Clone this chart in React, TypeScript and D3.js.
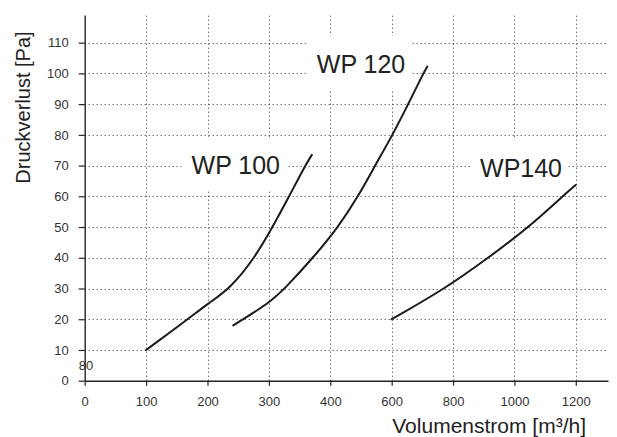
import { useEffect, useRef } from 'react';
import * as d3 from 'd3';

// axis ticks (the x axis changes step after 400)
const xTicks = [0, 100, 200, 300, 400, 600, 800, 1000, 1200];
const yTicks = [0, 10, 20, 30, 40, 50, 60, 70, 80, 90, 100, 110];
const xBreaks = [0, 400, 1305];
const yMax = 119;

// curves [Volumenstrom, Druckverlust]
const wp100: [number, number][] = [
  [100, 10], [168, 20], [200, 25], [237, 30], [277, 40], [306, 50], [333, 60], [359, 70], [370, 73.5],
];
const wp120: [number, number][] = [
  [242, 18], [300, 25.2], [326, 30], [372, 40], [426, 50], [491, 60], [546, 70], [603, 80], [654, 90], [703, 100], [716, 102.2],
];
const wp140: [number, number][] = [
  [600, 20], [775, 30], [915, 40], [1048, 50], [1157, 60], [1200, 63.7],
];
const curves = [wp100, wp120, wp140];

const labelNames = ['WP 100', 'WP 120', 'WP140'];
const labelAt: [number, number][] = [[174, 67.3], [378, 100.2], [888, 66.4]];

const FONT = '"Liberation Sans", Arial, Helvetica, sans-serif';

export default function App() {
  const svgRef = useRef<SVGSVGElement>(null);

  useEffect(() => {
    if (!svgRef.current) return;
    const width = 617;
    const height = 437;
    const margin = { top: 15, right: 9, bottom: 56.3, left: 84.7 };

    const svg = d3.select(svgRef.current);
    svg.selectAll('*').remove();
    svg.attr('width', width).attr('height', height);

    const x = d3.scaleLinear()
      .domain(xBreaks)
      .range([margin.left, 330.3, width - margin.right]);
    const y = d3.scaleLinear()
      .domain([0, yMax])
      .range([height - margin.bottom, margin.top]);

    const ink = '#222';
    const gridColor = '#333';
    const snap = (v: number) => Math.round(v) + 0.5;

    // Grid lines
    const grid = svg.append('g');
    grid.selectAll('line.h')
      .data(yTicks.filter(d => d > 0))
      .enter()
      .append('line')
      .attr('x1', x(0))
      .attr('x2', width - margin.right)
      .attr('y1', d => snap(y(d)))
      .attr('y2', d => snap(y(d)))
      .attr('stroke', gridColor)
      .attr('stroke-dasharray', '1,3');
    grid.selectAll('line.v')
      .data(xTicks.filter(d => d > 0))
      .enter()
      .append('line')
      .attr('x1', d => snap(x(d)))
      .attr('x2', d => snap(x(d)))
      .attr('y1', y(0))
      .attr('y2', margin.top)
      .attr('stroke', gridColor)
      .attr('stroke-dasharray', '1,3');

    // Label boxes (white) + texts
    const labelG = svg.append('g');
    labelNames.forEach((name, i) => {
      const [lx, ly] = labelAt[i];
      const rect = labelG.append('rect').attr('fill', '#fff');
      const t = labelG.append('text')
        .attr('x', x(lx))
        .attr('y', y(ly))
        .attr('font-family', FONT)
        .attr('font-size', 25)
        .attr('fill', ink)
        .text(name);
      const len = (t.node() as SVGTextElement).getComputedTextLength();
      rect
        .attr('x', x(lx) - 10)
        .attr('y', y(ly) - 37)
        .attr('width', len + 16)
        .attr('height', 53);
    });

    // Curves
    const line = d3.line<[number, number]>()
      .x(d => x(d[0]))
      .y(d => y(d[1]))
      .curve(d3.curveBasis);

    svg.append('g')
      .selectAll('path')
      .data(curves)
      .enter()
      .append('path')
      .attr('d', d => line(d))
      .attr('fill', 'none')
      .attr('stroke', '#1a1a1a')
      .attr('stroke-width', 2)
      .attr('stroke-linecap', 'round');

    // X axis
    svg.append('g')
      .attr('transform', `translate(0,${y(0)})`)
      .call(d3.axisBottom(x).tickValues(xTicks).tickSize(5).tickSizeOuter(0).tickPadding(11).tickFormat(d => String(d)))
      .call(g => g.select('.domain').attr('stroke', ink).attr('stroke-width', 1.4))
      .call(g => g.selectAll('.tick line').attr('stroke', ink).attr('stroke-width', 1.2))
      .call(g => g.selectAll('.tick text').attr('fill', '#333').attr('font-size', 13).attr('font-family', FONT));

    // Y axis
    svg.append('g')
      .attr('transform', `translate(${x(0)},0)`)
      .call(d3.axisLeft(y).tickValues(yTicks).tickSize(6).tickSizeOuter(0).tickPadding(10))
      .call(g => g.select('.domain').attr('stroke', ink).attr('stroke-width', 1.4))
      .call(g => g.selectAll('.tick line').attr('stroke', ink).attr('stroke-width', 1.2))
      .call(g => g.selectAll('.tick text').attr('fill', '#333').attr('font-size', 13).attr('font-family', FONT));

    // stray "80" label near origin
    svg.append('text')
      .attr('x', x(2))
      .attr('y', y(3.5))
      .attr('text-anchor', 'middle')
      .attr('font-family', FONT)
      .attr('font-size', 13)
      .attr('fill', '#333')
      .text('80');

    // Axis titles
    svg.append('text')
      .attr('transform', `translate(30,107.5) rotate(-90)`)
      .attr('text-anchor', 'middle')
      .attr('font-family', FONT)
      .attr('font-size', 20)
      .attr('fill', ink)
      .text('Druckverlust [Pa]');

    svg.append('text')
      .attr('x', 586)
      .attr('y', 432.5)
      .attr('text-anchor', 'end')
      .attr('font-family', FONT)
      .attr('font-size', 21)
      .attr('fill', ink)
      .text('Volumenstrom [m³/h]');
  }, []);

  return (
    <svg
      ref={svgRef}
      style={{ position: 'absolute', left: 0, top: 0, background: '#fff' }}
    />
  );
}
